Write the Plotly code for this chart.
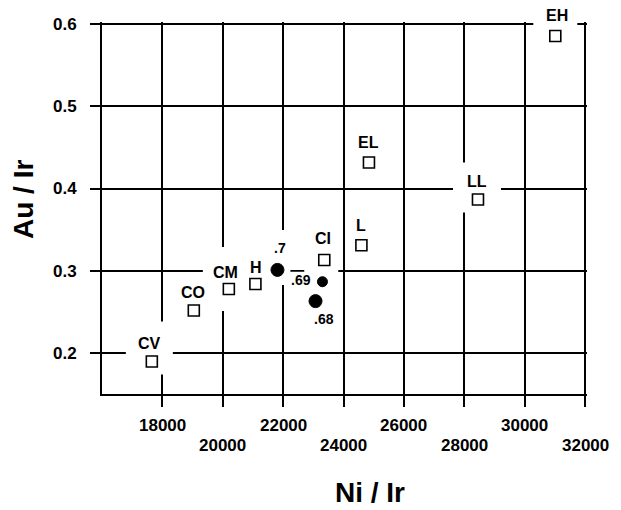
import plotly.graph_objects as go

# ---- data ----
group_labels = ["CV", "CO", "CM", "H", "CI", "L", "EL", "LL", "EH"]
group_ni_ir = [17650, 19040, 20200, 21080, 23360, 24590, 24840, 28450, 31010]
group_au_ir = [0.1895, 0.2516, 0.2777, 0.2838, 0.3130, 0.3310, 0.4316, 0.3866, 0.5855]

sample_labels = [".7", ".69", ".68"]
sample_ni_ir = [21810, 23300, 23070]
sample_au_ir = [0.301, 0.2866, 0.263]

x_ticks = [18000, 20000, 22000, 24000, 26000, 28000, 30000, 32000]
y_ticks = [0.2, 0.3, 0.4, 0.5, 0.6]

# ---- style ----
FONT = "Liberation Sans, Arial, sans-serif"
label_offset = {  # (dx, dy) in px, screen-down
    "CV": (-2, -18), "CO": (-1, -18), "CM": (-3, -17), "H": (1, -17),
    "CI": (-1, -22), "L": (0, -20), "EL": (0, -20), "LL": (-1, -18),
    "EH": (2, -21), ".7": (3, -22), ".69": (-21, -2), ".68": (8, 18),
}
gap_box = {  # (dx0, dx1, dy0, dy1) px around marker, screen-down
    "CV": (-26, 21, -40, 13), "CO": (-22, 22, -38, 12), "CM": (-26, 24, -42, 22),
    "H": (-24, 24, -38, 12), "CI": (-20, 14, -38, 13), "L": (-14, 20, -36, 12),
    "EL": (-20, 20, -36, 12), "LL": (-25, 23, -37, 13), "EH": (-22, 22, -30, 10),
    ".7": (-12, 13, -40, 15), ".69": (-32, 8, -10, 8), ".68": (-12, 14, -8, 28),
}
sample_sizes = [13, 10, 13]

fig = go.Figure()

fig.add_trace(go.Scatter(
    x=group_ni_ir, y=group_au_ir, mode="markers",
    marker=dict(symbol="square", size=11, color="white", opacity=1,
                line=dict(color="black", width=1.6)),
    hoverinfo="skip", showlegend=False,
))
fig.add_trace(go.Scatter(
    x=sample_ni_ir, y=sample_au_ir, mode="markers",
    marker=dict(symbol="circle", size=sample_sizes, color="#000000", opacity=1,
                line=dict(color="#000000", width=1)),
    hoverinfo="skip", showlegend=False,
))

all_labels = group_labels + sample_labels
all_x = group_ni_ir + sample_ni_ir
all_y = group_au_ir + sample_au_ir

shapes = []
annotations = []
for lab, xv, yv in zip(all_labels, all_x, all_y):
    dx0, dx1, dy0, dy1 = gap_box[lab]
    shapes.append(dict(
        type="rect", xref="x", yref="y", xsizemode="pixel", ysizemode="pixel",
        xanchor=xv, yanchor=yv, x0=dx0, x1=dx1, y0=-dy1, y1=-dy0,
        fillcolor="white", line=dict(width=0), layer="between",
    ))
    dx, dy = label_offset[lab]
    small = lab.startswith(".")
    annotations.append(dict(
        x=xv, y=yv, xref="x", yref="y", text=lab, showarrow=False,
        xshift=dx, yshift=-dy, xanchor="center", yanchor="middle",
        font=dict(family=FONT, size=14 if small else 16, color="black", weight="bold"),
    ))

# staggered x tick labels
for i, t in enumerate(x_ticks):
    annotations.append(dict(
        x=t, y=0, xref="x", yref="paper", text=str(t), showarrow=False,
        xanchor="center", yanchor="middle", yshift=-31 if i % 2 == 0 else -51,
        font=dict(family=FONT, size=17, color="black", weight="bold"),
    ))

# axis titles
annotations.append(dict(
    x=0, y=0.5215, xref="paper", yref="paper", text="Au / Ir", showarrow=False,
    xshift=-79, textangle=-90, xanchor="center", yanchor="middle",
    font=dict(family=FONT, size=28, color="black", weight="bold"),
))
annotations.append(dict(
    x=0.5526, y=0, xref="paper", yref="paper", text="Ni / Ir", showarrow=False,
    yshift=-98, xanchor="center", yanchor="middle",
    font=dict(family=FONT, size=28, color="black", weight="bold"),
))

fig.update_layout(
    width=621, height=510,
    margin=dict(l=102, r=34, t=22, b=116),
    paper_bgcolor="white", plot_bgcolor="white",
    shapes=shapes, annotations=annotations,
    showlegend=False,
)
fig.update_xaxes(
    range=[16000, 32060], tickvals=x_ticks, showticklabels=False,
    showgrid=True, gridcolor="black", gridwidth=1.6,
    showline=True, linecolor="black", linewidth=2, mirror=False,
    ticks="outside", ticklen=11, tickwidth=1.6, tickcolor="black",
    zeroline=False,
)
fig.update_yaxes(
    range=[0.15, 0.6026], tickvals=y_ticks, ticktext=[f"{v:.1f}" for v in y_ticks],
    showgrid=True, gridcolor="black", gridwidth=1.6,
    showline=True, linecolor="black", linewidth=2, mirror=False,
    ticks="outside", ticklen=10, tickwidth=1.6, tickcolor="black",
    ticklabelstandoff=10,
    tickfont=dict(family=FONT, size=17, color="black", weight="bold"),
    zeroline=False,
)

fig.write_html("out.html")
